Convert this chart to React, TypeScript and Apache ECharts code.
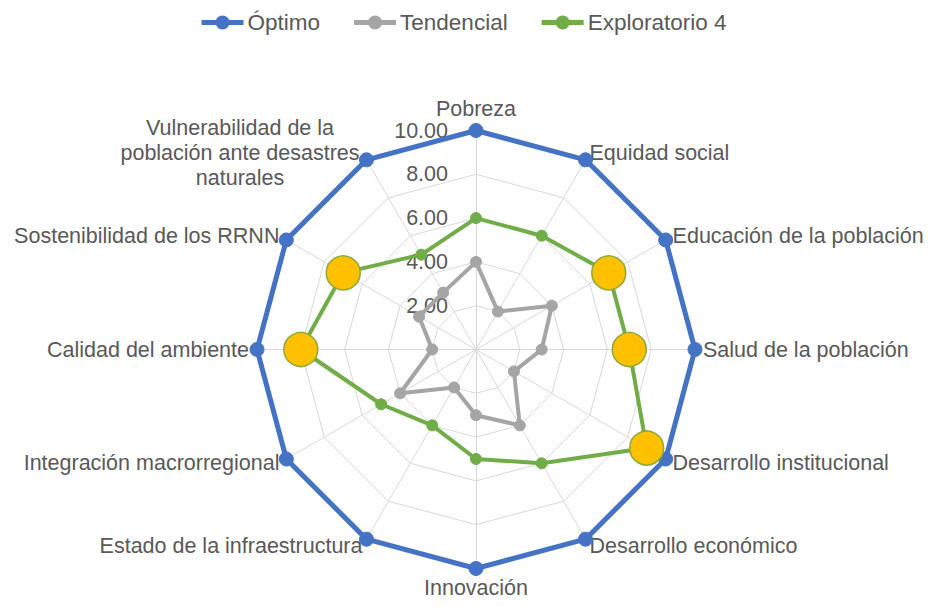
import React, { useEffect, useRef } from "react";
import * as echarts from "echarts";

// Categories in clockwise order starting at the top
const categories: string[] = [
  "Pobreza",
  "Equidad social",
  "Educación de la población",
  "Salud de la población",
  "Desarrollo institucional",
  "Desarrollo económico",
  "Innovación",
  "Estado de la infraestructura",
  "Integración macrorregional",
  "Calidad del ambiente",
  "Sostenibilidad de los RRNN",
  "Vulnerabilidad de la\npoblación ante desastres\nnaturales",
];

const seriesNames: string[] = ["Óptimo", "Tendencial", "Exploratorio 4"];
const optimo: number[] = [10, 10, 10, 10, 10, 10, 10, 10, 10, 10, 10, 10];
const tendencial: number[] = [4, 2, 4, 3, 2, 4, 3, 2, 4, 2, 3, 3];
const exploratorio: number[] = [6, 6, 7, 7, 9, 6, 5, 4, 5, 8, 7, 5];
// points of Exploratorio 4 highlighted with large yellow markers
const highlightIdx: number[] = [2, 3, 4, 9, 10];

const axisMin = 0;
const axisMax = 10;
const axisInterval = 2;

const FONT = "'Liberation Sans', Arial, Helvetica, sans-serif";
const TEXT = "#595959";
const CENTER: [number, number] = [476, 349.5];
const RADIUS = 219;

// ECharts radar places indicators counter-clockwise: reverse all but the first
const order: number[] = [0, ...categories.slice(1).map((_, i) => categories.length - 1 - i)];
const reorder = (arr: number[]) => order.map((i) => arr[i]);

const legendIcon =
  "path://M0,5.5H40V8.5H0Z M14,7A6,6 0 1,1 26,7A6,6 0 1,1 14,7Z";

export default function App() {
  const ref = useRef<HTMLDivElement>(null);

  useEffect(() => {
    if (!ref.current) return;
    const chart = echarts.init(ref.current, undefined, { renderer: "svg" });
    const colors = ["#4472C4", "#A5A5A5", "#70AD47"];
    const widths = [5, 4, 4];
    const sizes = [14, 11, 11];
    const values = [optimo, tendencial, exploratorio];

    chart.setOption({
      animation: false,
      backgroundColor: "#ffffff",
      textStyle: { fontFamily: FONT },
      legend: {
        top: 6,
        left: "center",
        itemWidth: 40,
        itemHeight: 14,
        itemGap: 34,
        textStyle: { fontSize: 22.5, color: TEXT, fontFamily: FONT },
        data: seriesNames.map((n) => ({ name: n, icon: legendIcon })),
      },
      radar: {
        center: CENTER,
        radius: RADIUS,
        startAngle: 90,
        splitNumber: 5,
        shape: "polygon",
        nameGap: 8,
        indicator: order.map((i) => {
          const ind: any = { name: categories[i], min: axisMin, max: axisMax };
          if (i === 0) {
            ind.axisLabel = {
              show: true,
              color: TEXT,
              fontSize: 21.5,
              fontFamily: FONT,
              margin: 28,
              formatter: (v: number) => (v === 0 ? "" : Number(v).toFixed(2)),
            };
          }
          return ind;
        }),
        axisName: {
          color: TEXT,
          fontSize: 21.5,
          fontFamily: FONT,
          formatter: (name: string) =>
            name.includes("\n")
              ? name
                  .split("\n")
                  .map((l) => `{c|${l}}`)
                  .join("\n")
              : name,
          rich: {
            c: {
              width: 245,
              align: "center",
              fontSize: 21.5,
              lineHeight: 25,
              color: TEXT,
              fontFamily: FONT,
            },
          },
        },
        splitLine: { lineStyle: { color: "#D9D9D9", width: 1 } },
        splitArea: { show: false },
        axisLine: { lineStyle: { color: "#D9D9D9", width: 1 } },
        axisTick: { show: false },
        axisLabel: { show: false },
      },
      polar: { center: CENTER, radius: RADIUS },
      angleAxis: {
        type: "category",
        data: categories,
        startAngle: 90,
        clockwise: true,
        boundaryGap: false,
        show: false,
      },
      radiusAxis: { min: axisMin, max: axisMax, interval: axisInterval, show: false },
      series: [
        {
          type: "radar",
          symbol: "circle",
          data: seriesNames.map((n, k) => ({
            name: n,
            value: reorder(values[k]),
            symbol: "circle",
            symbolSize: sizes[k],
            lineStyle: { color: colors[k], width: widths[k] },
            itemStyle: { color: colors[k], borderColor: colors[k], borderWidth: 1 },
          })),
          z: 2,
        },
        {
          type: "scatter",
          name: "highlight",
          coordinateSystem: "polar",
          symbol: "circle",
          symbolSize: 34,
          itemStyle: { color: "#FFC000", borderColor: "#8AAA3A", borderWidth: 1.5, opacity: 1 },
          data: highlightIdx.map((i) => [exploratorio[i], i]),
          z: 5,
        },
      ],
    });

    return () => chart.dispose();
  }, []);

  return (
    <div
      ref={ref}
      style={{ position: "absolute", left: 0, top: 0, width: 928, height: 606 }}
    />
  );
}
